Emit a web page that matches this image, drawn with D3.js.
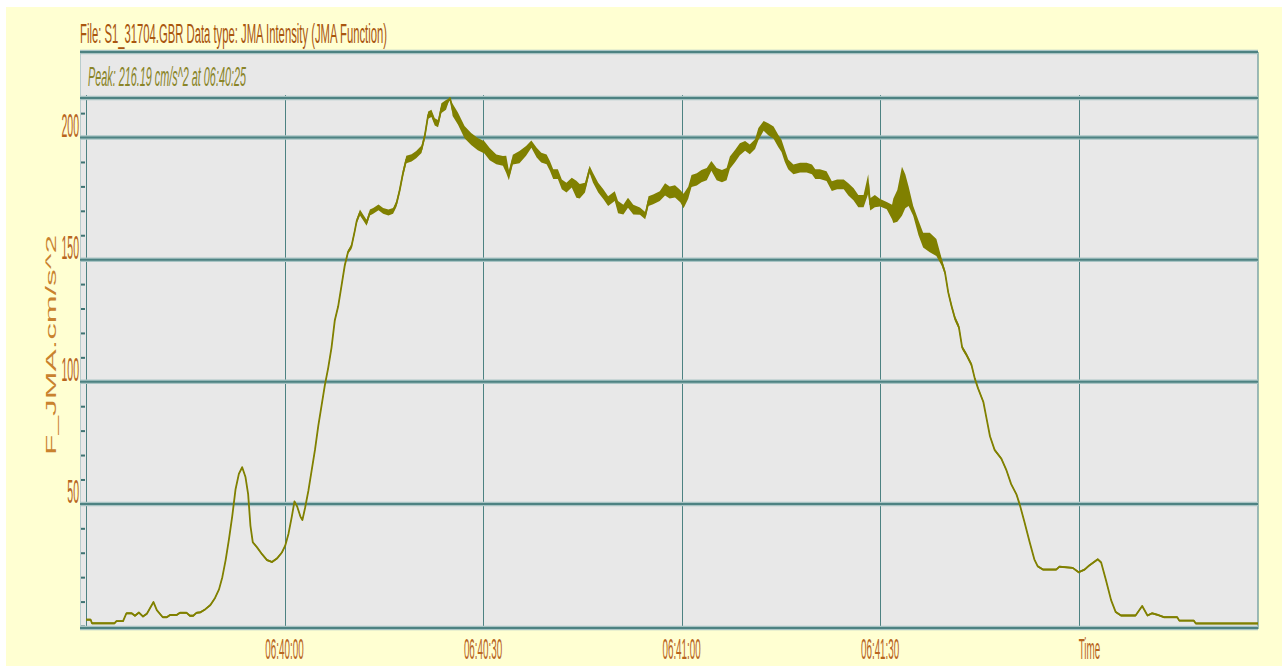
<!DOCTYPE html>
<html>
<head>
<meta charset="utf-8">
<script src="https://cdn.jsdelivr.net/npm/d3@7"></script>
<style>
  html, body { margin: 0; padding: 0; background: #ffffff; overflow: hidden; }
  svg { display: block; }
</style>
</head>
<body>
<svg id="chart" width="1282" height="666"></svg>
<script>
// Record: seconds after 06:39:30, JMA intensity value and the half-width of the noise band (cm/s^2)
const seconds = [
  0.0, 0.7, 0.9, 4.3, 4.6, 5.6, 6.1, 6.9, 7.4, 8.0, 8.6, 9.2, 10.2, 10.7, 11.6, 12.2, 12.7, 13.7, 14.2, 15.2,
  15.7, 16.2, 16.7, 17.3, 18.0, 18.8, 19.5, 20.1, 20.6, 21.1, 21.6, 22.1, 22.6, 23.1, 23.6, 24.1, 24.5, 24.85, 25.2, 25.85,
  26.6, 27.35, 28.1, 28.85, 29.6, 30.1, 30.6, 31.1, 31.5, 31.9, 32.4, 32.7, 33.1, 33.6, 34.1, 34.6, 35.1, 35.6, 36.1, 36.6,
  37.1, 37.6, 38.1, 38.6, 39.1, 39.6, 40.1, 40.6, 40.9, 41.4, 41.9, 42.4, 42.9, 43.4, 44.2, 44.9, 45.7, 46.4, 46.9, 47.4,
  47.9, 48.4, 49.2, 49.9, 50.7, 51.2, 51.7, 52.2, 52.7, 53.2, 53.7, 54.4, 55.0, 55.4, 56.2, 57.2, 58.2, 59.2, 60.2, 61.0,
  62.0, 63.0, 63.5, 63.9, 64.5, 65.5, 66.5, 67.3, 68.1, 68.8, 69.6, 70.1, 70.6, 71.3, 71.9, 72.6, 73.4, 74.1, 74.6, 75.4,
  76.1, 76.6, 77.4, 78.2, 78.9, 79.9, 80.4, 81.2, 81.9, 82.7, 83.7, 84.5, 85.0, 85.7, 86.7, 87.5, 88.2, 89.0, 89.8, 90.3,
  91.0, 91.5, 92.3, 93.0, 93.8, 94.5, 95.3, 96.1, 96.8, 97.3, 98.1, 98.8, 99.6, 100.3, 101.1, 101.6, 102.4, 103.1, 103.9, 104.6,
  105.1, 105.6, 106.1, 106.9, 107.9, 108.9, 109.7, 110.2, 110.9, 111.9, 112.7, 113.5, 114.5, 115.2, 116.0, 116.7, 117.5, 118.2, 118.5, 119.2,
  120.0, 121.0, 121.8, 122.0, 122.6, 123.3, 123.8, 124.3, 125.0, 125.8, 126.5, 127.5, 128.5, 129.3, 129.8, 130.3, 130.8, 131.3, 131.9, 132.4,
  133.0, 133.8, 134.3, 134.8, 135.6, 136.1, 136.6, 137.3, 138.3, 139.1, 139.8, 140.6, 141.1, 141.8, 142.6, 143.3, 143.8, 144.6, 146.6, 147.1,
  149.1, 150.0, 150.9, 151.6, 152.9, 153.4, 154.1, 154.9, 155.6, 156.4, 158.6, 159.6, 160.4, 161.1, 161.9, 162.9, 164.9, 165.2, 167.4, 167.7,
  177.1
];
const jma = [
  2.6, 2.6, 1.1, 1.1, 2.0, 2.0, 5.2, 5.2, 4.2, 5.5, 3.9, 5.0, 9.8, 6.5, 3.6, 3.6, 4.5, 4.5, 5.4, 5.4,
  4.2, 4.2, 5.4, 5.6, 6.8, 8.6, 11.5, 15.0, 20.0, 27.0, 35.5, 45.0, 56.0, 62.3, 65.0, 61.0, 54.0, 41.0, 34.3, 32.2,
  29.4, 27.0, 26.2, 27.6, 30.1, 32.9, 37.8, 44.8, 51.0, 49.0, 44.8, 43.4, 48.3, 55.3, 63.7, 72.1, 81.9, 90.3, 98.7, 105.7,
  114.0, 125.2, 130.8, 139.2, 147.6, 153.2, 155.3, 161.6, 165.8, 169.3, 167.2, 165.1, 169.3, 170.0, 171.4, 170.0, 169.3, 170.0, 172.8, 178.4,
  185.4, 191.0, 191.7, 193.0, 195.2, 200.8, 209.2, 209.9, 206.4, 205.7, 212.0, 213.4, 216.19, 211.3, 207.8, 202.2, 199.4, 197.3, 196.0, 193.2,
  191.1, 190.4, 189.0, 184.5, 191.0, 192.0, 194.5, 197.3, 193.8, 191.8, 191.1, 188.4, 185.0, 185.0, 180.8, 179.5, 181.5, 178.8, 178.0, 179.5,
  187.0, 183.6, 179.5, 176.7, 174.0, 176.0, 171.5, 170.5, 173.3, 170.5, 169.9, 168.0, 174.0, 174.7, 176.0, 178.8, 177.5, 178.0, 176.0, 174.0,
  177.4, 182.2, 182.9, 184.2, 185.0, 188.4, 185.0, 184.2, 185.0, 189.7, 192.5, 195.2, 196.6, 195.2, 197.3, 201.4, 204.8, 203.4, 202.0, 198.6,
  196.6, 192.5, 189.0, 187.0, 187.7, 187.7, 187.0, 185.0, 185.0, 184.2, 180.1, 180.8, 180.8, 178.8, 176.7, 174.0, 174.0, 181.0, 172.6, 174.0,
  173.3, 172.1, 169.5, 170.0, 172.0, 178.0, 178.0, 176.0, 170.0, 163.0, 158.0, 157.0, 155.0, 149.0, 144.8, 136.5, 130.9, 126.0, 122.4, 114.0,
  111.3, 107.0, 101.4, 97.3, 91.7, 84.7, 77.7, 72.1, 68.6, 63.7, 58.1, 53.9, 49.7, 42.7, 34.3, 27.3, 24.5, 23.1, 23.1, 24.3,
  23.8, 22.0, 23.1, 24.8, 27.3, 26.0, 19.0, 10.6, 5.7, 4.3, 4.3, 8.2, 4.3, 5.2, 4.6, 3.6, 3.6, 2.2, 2.2, 1.05,
  1.05
];
const noise = [
  0.4, 0.4, 0.4, 0.4, 0.4, 0.4, 0.4, 0.4, 0.4, 0.4, 0.4, 0.4, 0.4, 0.4, 0.4, 0.4, 0.4, 0.4, 0.4, 0.4,
  0.4, 0.4, 0.4, 0.4, 0.4, 0.4, 0.4, 0.4, 0.4, 0.4, 0.4, 0.4, 0.4, 0.4, 0.4, 0.4, 0.4, 0.4, 0.4, 0.4,
  0.4, 0.4, 0.4, 0.4, 0.4, 0.4, 0.4, 0.4, 0.4, 0.4, 0.4, 0.4, 0.4, 0.4, 0.5, 0.5, 0.5, 0.5, 0.5, 0.6,
  0.6, 0.6, 0.6, 0.6, 0.7, 0.8, 1.0, 1.0, 1.0, 1.2, 1.2, 1.2, 1.2, 1.2, 1.2, 1.2, 1.2, 1.2, 1.2, 1.2,
  1.5, 1.5, 1.5, 1.5, 1.5, 1.5, 1.5, 1.5, 1.5, 1.5, 2.0, 2.0, 0.0, 2.5, 2.5, 2.5, 2.5, 2.5, 2.5, 2.5,
  2.0, 2.0, 3.5, 2.0, 2.0, 2.5, 2.0, 1.5, 2.0, 2.0, 2.0, 2.0, 2.0, 2.0, 2.0, 2.0, 2.0, 3.5, 3.0, 2.0,
  1.5, 2.0, 2.0, 2.0, 2.0, 2.0, 2.5, 2.0, 2.0, 2.0, 1.5, 1.5, 2.0, 2.0, 2.0, 2.5, 2.5, 2.5, 2.5, 3.0,
  2.5, 2.5, 2.5, 2.5, 2.5, 2.0, 2.5, 2.5, 2.5, 2.5, 2.5, 2.5, 2.0, 2.0, 2.0, 2.5, 2.0, 2.5, 2.5, 2.5,
  2.5, 2.5, 2.0, 2.0, 2.0, 2.0, 2.0, 2.0, 2.0, 2.0, 2.0, 2.0, 2.0, 2.5, 2.5, 2.5, 2.5, 4.0, 2.5, 2.5,
  1.5, 1.5, 3.0, 5.0, 6.5, 10.0, 7.0, 4.0, 2.0, 3.0, 3.0, 4.0, 3.5, 1.5, 1.0, 1.0, 1.0, 1.0, 1.0, 0.8,
  0.8, 0.8, 0.6, 0.6, 0.6, 0.5, 0.5, 0.5, 0.5, 0.5, 0.5, 0.5, 0.4, 0.4, 0.4, 0.4, 0.4, 0.4, 0.4, 0.4,
  0.4, 0.4, 0.4, 0.4, 0.4, 0.4, 0.4, 0.4, 0.4, 0.4, 0.4, 0.4, 0.4, 0.4, 0.4, 0.4, 0.4, 0.4, 0.4, 0.4,
  0.4
];

const yLabelValues = [50, 100, 150, 200];
const timeTickSeconds = [30, 60, 90, 120, 150];
const timeTickLabels = ["06:40:00", "06:40:30", "06:41:00", "06:41:30", "Time"];
const titleText = "File: S1_31704.GBR  Data type: JMA Intensity (JMA Function)";
const peakText = "Peak: 216.19 cm/s^2 at 06:40:25";
const yAxisTitle = "F_JMA.cm/s^2";

const svg = d3.select("#chart");
const left = 80, axisX = 86, right = 1258, headTop = 52, plotTop = 98, plotBottom = 628;
const textColor = "#b8651e", gridColor = "#4d8282", haloColor = "#a9c4c4", traceColor = "#808000";

const x = d3.scaleLinear().domain([0, 177.1]).range([axisX, right]);
const y = d3.scaleLinear().domain([0, 216.19]).range([626, plotTop]);

// page frame
svg.append("rect").attr("x", 6).attr("y", 7).attr("width", 1276).attr("height", 659).attr("fill", "#ffffd2");

// header strip and plot background
svg.append("rect").attr("x", left).attr("y", headTop).attr("width", right - left).attr("height", plotBottom - headTop).attr("fill", "#e8e8e8");
svg.append("line").attr("x1", right).attr("x2", right).attr("y1", headTop).attr("y2", plotBottom + 1)
  .attr("stroke", "#7ea6a6").attr("stroke-width", 1.5);
svg.append("line").attr("x1", left + 0.5).attr("x2", left + 0.5).attr("y1", headTop).attr("y2", plotBottom + 1)
  .attr("stroke", "#b9cccc").attr("stroke-width", 1);

// vertical time grid
const vg = svg.append("g");
vg.selectAll("line").data(timeTickSeconds).join("line")
  .attr("x1", d => Math.round(x(d)) + 0.5).attr("x2", d => Math.round(x(d)) + 0.5)
  .attr("y1", 95).attr("y2", plotBottom)
  .attr("stroke", gridColor).attr("stroke-width", 1);

// y axis line and minor ticks every 10
svg.append("line").attr("x1", axisX + 0.5).attr("x2", axisX + 0.5).attr("y1", 95).attr("y2", plotBottom)
  .attr("stroke", gridColor).attr("stroke-width", 1);
const yAxis = d3.axisLeft(y).tickValues(d3.range(0, 211, 10)).tickSize(4).tickFormat("");
const ya = svg.append("g").attr("transform", `translate(${axisX - 1},0)`).call(yAxis);
ya.select(".domain").remove();
ya.selectAll(".tick line").attr("stroke", "#3f7373").attr("stroke-width", 2);

// horizontal grid lines (thick, with a pale halo)
const hLines = [headTop, plotTop].concat(yLabelValues.map(v => y(v))).concat([plotBottom]);
const hg = svg.append("g");
hLines.forEach(py => {
  hg.append("line").attr("x1", left).attr("x2", right).attr("y1", py).attr("y2", py)
    .attr("stroke", haloColor).attr("stroke-width", 4.5);
  hg.append("line").attr("x1", left).attr("x2", right).attr("y1", py).attr("y2", py)
    .attr("stroke", gridColor).attr("stroke-width", 2);
});

// trace: noise envelope plus centre line
const pts = seconds.map((t, i) => ({ t, v: jma[i], n: noise[i] }));
const band = d3.area()
  .x(d => x(d.t))
  .y0(d => y(Math.max(0, d.v - d.n)))
  .y1(d => y(d.v + d.n));
const line = d3.line().x(d => x(d.t)).y(d => y(d.v));
svg.append("path").datum(pts).attr("d", band).attr("fill", traceColor);
svg.append("path").datum(pts).attr("d", line).attr("fill", "none")
  .attr("stroke", traceColor).attr("stroke-width", 1.8).attr("stroke-linejoin", "round");

// y value labels (narrow, tall digits)
svg.append("g").selectAll("text").data(yLabelValues).join("text")
  .attr("transform", d => `translate(79,${y(d) - 0.5}) scale(0.31,1)`)
  .attr("text-anchor", "end")
  .attr("font-family", "Liberation Sans, Arial, sans-serif")
  .attr("font-size", 34)
  .attr("fill", textColor)
  .text(d => d);

// time labels
svg.append("g").selectAll("text").data(timeTickSeconds).join("text")
  .attr("transform", (d, i) => `translate(${x(d)},659) scale(0.34,1)`)
  .attr("text-anchor", (d, i) => timeTickLabels[i] === "Time" ? "start" : "middle")
  .attr("font-family", "Liberation Sans, Arial, sans-serif")
  .attr("font-size", 29)
  .attr("fill", textColor)
  .text((d, i) => timeTickLabels[i]);

// y axis title
svg.append("text")
  .attr("transform", "translate(56,345) rotate(-90)")
  .attr("text-anchor", "middle")
  .attr("font-family", "Liberation Sans, Arial, sans-serif")
  .attr("font-size", 15)
  .attr("textLength", 220)
  .attr("lengthAdjust", "spacingAndGlyphs")
  .attr("fill", "#c9822e")
  .text(yAxisTitle);

// title above the header strip
svg.append("text")
  .attr("x", left).attr("y", 43)
  .attr("font-family", "Liberation Sans, Arial, sans-serif")
  .attr("font-size", 27)
  .attr("textLength", 307)
  .attr("lengthAdjust", "spacingAndGlyphs")
  .attr("fill", "#a9560f")
  .text(titleText);

// peak note inside the header strip
svg.append("text")
  .attr("x", 88).attr("y", 86)
  .attr("font-family", "Liberation Sans, Arial, sans-serif")
  .attr("font-style", "italic")
  .attr("font-size", 27)
  .attr("textLength", 158)
  .attr("lengthAdjust", "spacingAndGlyphs")
  .attr("fill", "#8a8528")
  .text(peakText);
</script>
</body>
</html>
